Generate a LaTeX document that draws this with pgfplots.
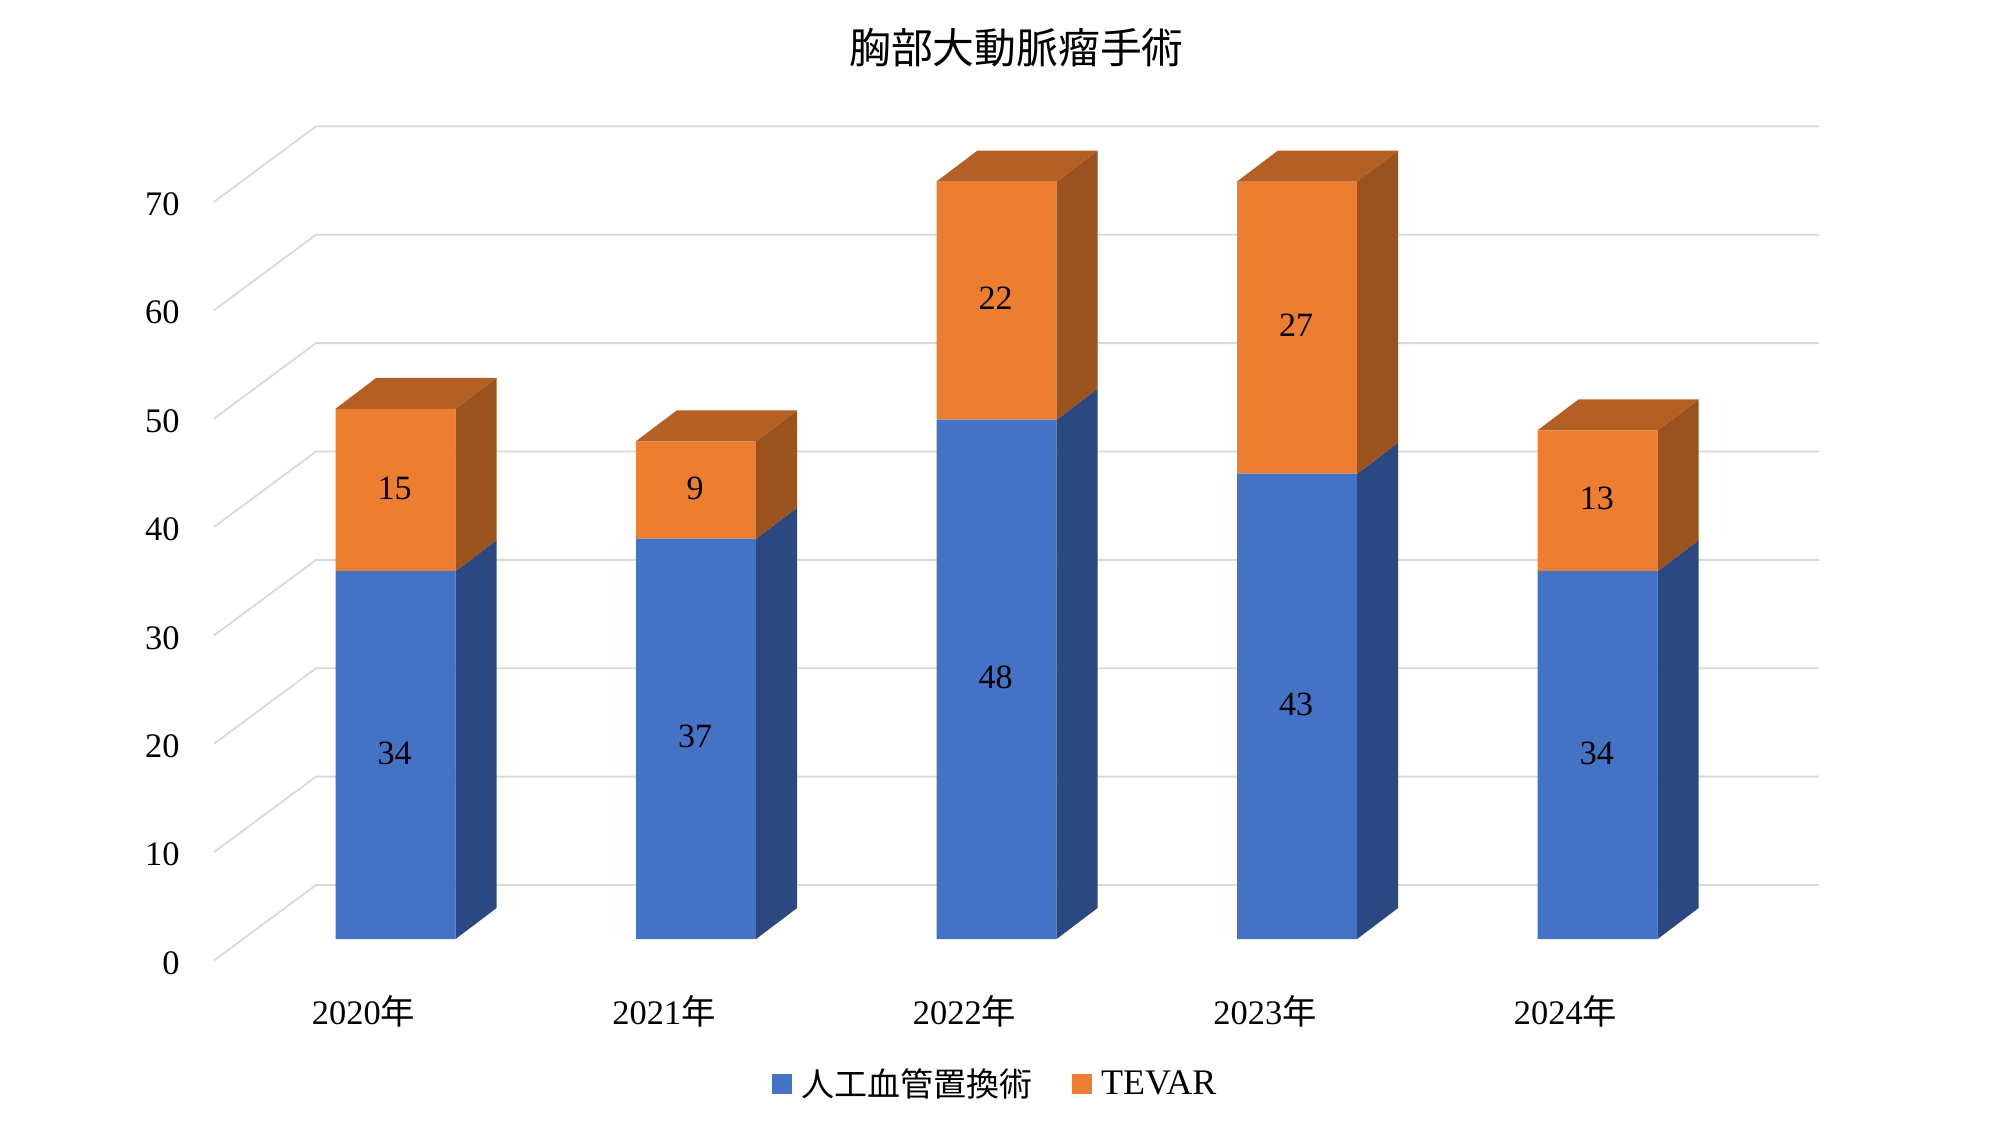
\documentclass[border=0pt]{standalone}
\usepackage{pgfplots}
\usepackage{fontspec}
\pgfplotsset{compat=1.18}
\setmainfont{Liberation Serif}
\newfontfamily\cjk{Noto Sans CJK JP}
\definecolor{cblue}{HTML}{4472C4}
\definecolor{corange}{HTML}{ED7D31}
\definecolor{sblue}{HTML}{2B4880}
\definecolor{sorange}{HTML}{9A521E}
\definecolor{torange}{HTML}{B46025}
\definecolor{gridc}{HTML}{D9D9D9}
\pgfplotsset{
  fullaxis/.style={
    at={(0,0)}, anchor=south west, scale only axis,
    width=1000pt, height=562.5pt,
    xmin=-1.3161, xmax=5.3394, ymin=-17.19, ymax=86.78,
    hide axis, clip=false},
  face/.style={fill=#1, draw=none, forget plot},
  gline/.style={draw=gridc, line width=0.9pt, forget plot, mark=none},
}
\begin{document}
\begin{tikzpicture}
\path[use as bounding box] (0,0) rectangle (1000pt,562.5pt);
% wall, gridlines, tick labels
\begin{axis}[
  at={(107pt,70pt)}, anchor=south west, scale only axis,
  width=802.5pt, height=442.5pt,
  xmin=-0.4975, xmax=4.8436, ymin=-2.26, ymax=79.4,
  clip=false,
  axis line style={draw=none}, tick style={draw=none}, major tick length=0pt,
  xtick={0,1,2,3,4},
  xticklabels={2020{\cjk 年},2021{\cjk 年},2022{\cjk 年},2023{\cjk 年},2024{\cjk 年}},
  ytick={0,10,20,30,40,50,60,70},
  /pgf/number format/assume math mode=true,
  tick label style={font=\fontsize{17.2}{20}\selectfont},
  yticklabel style={anchor=east, inner sep=0pt, xshift=-17pt, yshift=-1.2pt},
  xticklabel style={anchor=center, inner sep=0pt, yshift=-13pt},
]
\addplot[gline] coordinates {(-0.4975,0) (-0.158,6.965) (4.8436,6.965)};
\addplot[gline] coordinates {(-0.4975,10) (-0.158,16.965) (4.8436,16.965)};
\addplot[gline] coordinates {(-0.4975,20) (-0.158,26.965) (4.8436,26.965)};
\addplot[gline] coordinates {(-0.4975,30) (-0.158,36.965) (4.8436,36.965)};
\addplot[gline] coordinates {(-0.4975,40) (-0.158,46.965) (4.8436,46.965)};
\addplot[gline] coordinates {(-0.4975,50) (-0.158,56.965) (4.8436,56.965)};
\addplot[gline] coordinates {(-0.4975,60) (-0.158,66.965) (4.8436,66.965)};
\addplot[gline] coordinates {(-0.4975,70) (-0.158,76.965) (4.8436,76.965)};
\end{axis}
% front faces
\begin{axis}[
  fullaxis, ybar stacked, bar width=60pt,
  title={\cjk 胸部大動脈瘤手術},
  title style={at={(0.5082,0.9468)}, anchor=center, inner sep=0pt,
    font=\fontsize{20.9}{24}\selectfont},
  legend style={at={(0.4981,0.0367)}, anchor=center, draw=none, fill=none,
    legend columns=2, font=\fontsize{16.5}{20}\selectfont,
    /tikz/every even column/.append style={column sep=18pt}},
  legend image code/.code={\fill[#1] (0pt,-5pt) rectangle (10pt,5pt); \path (12.5pt,0pt);},
]
\addplot[fill=cblue, draw=none] coordinates {(0,34) (1,37) (2,48) (3,43) (4,34)};
\addlegendentry{\cjk 人工血管置換術}
\addplot[fill=corange, draw=none] coordinates {(0,15) (1,9) (2,22) (3,27) (4,13)};
\addlegendentry{\fontsize{18}{20}\selectfont TEVAR}
\end{axis}
% side and top faces, data labels
\begin{axis}[fullaxis]
\addplot[face=sblue] coordinates {(0.2,0) (0.3364,2.865) (0.3364,36.865) (0.2,34)} -- cycle;
\addplot[face=sblue] coordinates {(1.2,0) (1.3364,2.865) (1.3364,39.865) (1.2,37)} -- cycle;
\addplot[face=sblue] coordinates {(2.2,0) (2.3364,2.865) (2.3364,50.865) (2.2,48)} -- cycle;
\addplot[face=sblue] coordinates {(3.2,0) (3.3364,2.865) (3.3364,45.865) (3.2,43)} -- cycle;
\addplot[face=sblue] coordinates {(4.2,0) (4.3364,2.865) (4.3364,36.865) (4.2,34)} -- cycle;
\addplot[face=sorange] coordinates {(0.2,34) (0.3364,36.865) (0.3364,51.865) (0.2,49)} -- cycle;
\addplot[face=sorange] coordinates {(1.2,37) (1.3364,39.865) (1.3364,48.865) (1.2,46)} -- cycle;
\addplot[face=sorange] coordinates {(2.2,48) (2.3364,50.865) (2.3364,72.865) (2.2,70)} -- cycle;
\addplot[face=sorange] coordinates {(3.2,43) (3.3364,45.865) (3.3364,72.865) (3.2,70)} -- cycle;
\addplot[face=sorange] coordinates {(4.2,34) (4.3364,36.865) (4.3364,49.865) (4.2,47)} -- cycle;
\addplot[face=torange] coordinates {(-0.2,49) (-0.0636,51.865) (0.3364,51.865) (0.2,49)} -- cycle;
\addplot[face=torange] coordinates {(0.8,46) (0.9364,48.865) (1.3364,48.865) (1.2,46)} -- cycle;
\addplot[face=torange] coordinates {(1.8,70) (1.9364,72.865) (2.3364,72.865) (2.2,70)} -- cycle;
\addplot[face=torange] coordinates {(2.8,70) (2.9364,72.865) (3.3364,72.865) (3.2,70)} -- cycle;
\addplot[face=torange] coordinates {(3.8,47) (3.9364,49.865) (4.3364,49.865) (4.2,47)} -- cycle;
\addplot[draw=none, mark=none, forget plot, nodes near coords, point meta=explicit symbolic,
  every node near coord/.append style={anchor=center, inner sep=0pt, xshift=-0.4pt, yshift=1pt, font=\fontsize{17}{19}\selectfont}]
  coordinates {(0,17)[34] (1,18.5)[37] (2,24)[48] (3,21.5)[43] (4,17)[34]
               (0,41.5)[15] (1,41.5)[9] (2,59)[22] (3,56.5)[27] (4,40.5)[13]};
\end{axis}
\end{tikzpicture}
\end{document}
